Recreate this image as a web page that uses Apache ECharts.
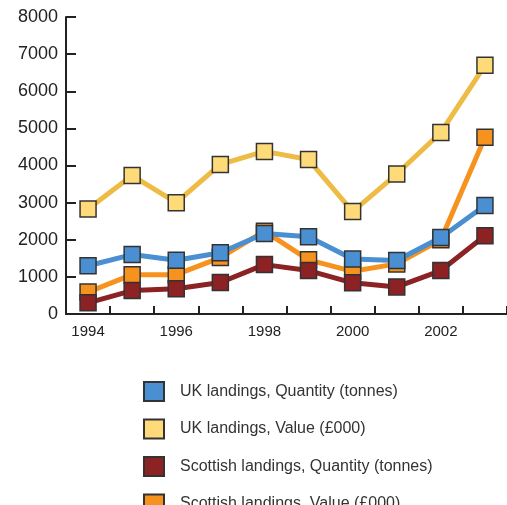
<!DOCTYPE html>
<html>
<head>
<meta charset="utf-8">
<script src="https://cdn.jsdelivr.net/npm/echarts@6/dist/echarts.min.js"></script>
<style>
  html, body { margin: 0; padding: 0; background: #fff; }
  #chart { width: 507px; height: 505px; }
</style>
</head>
<body>
<div id="chart"></div>
<script>
// Landings by year, UK and Scotland
const years = ['1994', '1995', '1996', '1997', '1998', '1999', '2000', '2001', '2002', '2003'];
const ukQuantity = [1300, 1600, 1450, 1650, 2170, 2080, 1480, 1440, 2060, 2920];
const ukValue = [2830, 3730, 3000, 4030, 4380, 4160, 2760, 3770, 4890, 6700];
const scotQuantity = [300, 630, 680, 850, 1330, 1170, 840, 730, 1170, 2110];
const scotValue = [590, 1060, 1060, 1520, 2230, 1460, 1150, 1350, 2000, 4760];
const yTicks = { min: 0, max: 8000, step: 1000 };

const FONT = 'Liberation Sans, Arial, sans-serif';
const INK = '#222';

function lineSeries(name, data, lineColor, fillColor, z) {
  return {
    name: name,
    type: 'line',
    data: data,
    z: z,
    symbol: 'rect',
    symbolSize: 16,
    lineStyle: { color: lineColor, width: 5 },
    itemStyle: { color: fillColor, borderColor: '#333', borderWidth: 1.5 },
    emphasis: { disabled: true },
    animation: false
  };
}

const chart = echarts.init(document.getElementById('chart'), null, { renderer: 'canvas' });
chart.setOption({
  backgroundColor: '#fff',
  animation: false,
  grid: { left: 66, top: 17, right: -4, bottom: 191, containLabel: false },
  legend: {
    orient: 'vertical',
    left: 143,
    top: 381,
    height: 200,
    padding: 0,
    itemGap: 16.5,
    itemWidth: 20,
    itemHeight: 19,
    icon: 'rect',
    selectedMode: false,
    textStyle: { fontFamily: FONT, fontSize: 16, lineHeight: 19, color: '#333', padding: [0, 0, 0, 11] },
    data: [
      'UK landings, Quantity (tonnes)',
      'UK landings, Value (£000)',
      'Scottish landings, Quantity (tonnes)',
      'Scottish landings, Value (£000)'
    ]
  },
  xAxis: {
    type: 'category',
    data: years,
    boundaryGap: true,
    axisLine: { lineStyle: { color: INK, width: 2 } },
    axisTick: { show: true, inside: true, length: 8, interval: 0, lineStyle: { color: INK, width: 2 } },
    axisLabel: { interval: 1, color: INK, fontFamily: FONT, fontSize: 15, margin: 10 },
    splitLine: { show: false }
  },
  yAxis: {
    type: 'value',
    min: yTicks.min,
    max: yTicks.max,
    interval: yTicks.step,
    axisLine: { show: true, lineStyle: { color: INK, width: 2 } },
    axisTick: { show: true, inside: true, length: 10, lineStyle: { color: INK, width: 2 } },
    axisLabel: { color: INK, fontFamily: FONT, fontSize: 18, margin: 8, formatter: v => String(v) },
    splitLine: { show: false }
  },
  series: [
    lineSeries('UK landings, Quantity (tonnes)', ukQuantity, '#4a8fd2', '#4a8fd2', 5),
    lineSeries('UK landings, Value (£000)', ukValue, '#eebb45', '#fedb78', 4),
    lineSeries('Scottish landings, Quantity (tonnes)', scotQuantity, '#8c2224', '#8c2224', 3),
    lineSeries('Scottish landings, Value (£000)', scotValue, '#f6931f', '#f6931f', 2)
  ]
});
</script>
</body>
</html>
